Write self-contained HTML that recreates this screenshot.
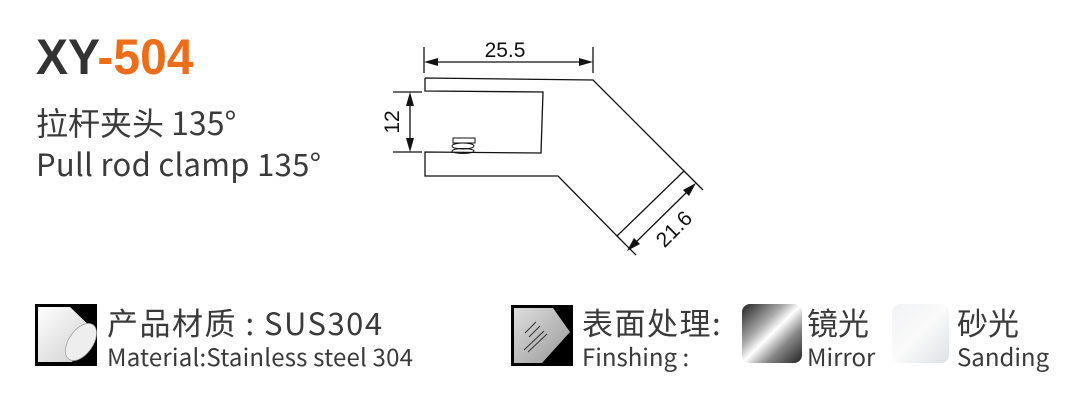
<!DOCTYPE html>
<html><head><meta charset="utf-8"><style>
body{margin:0;width:1088px;height:403px;background:#fff;overflow:hidden;position:relative;font-family:"Liberation Sans","Noto Sans CJK SC",sans-serif;color:#333}
.t{position:absolute;white-space:nowrap;font-family:'Noto Sans CJK SC',sans-serif;color:#3a3a3a}
</style></head><body>
<div class="t" style="left:36px;top:28px;font-size:50px;font-weight:bold;font-family:'Liberation Sans',sans-serif;transform:scaleX(0.96);transform-origin:0 0"><span style="color:#333">XY</span><span style="color:#ec6d1a">-504</span></div>
<div class="t" style="left:36px;top:102px;font-size:32px;line-height:40px">拉杆夹头 135°</div>
<div class="t" style="left:36px;top:143px;font-size:31px;line-height:40px;letter-spacing:0.3px">Pull rod clamp 135°</div>

<svg width="1088" height="403" style="position:absolute;left:0;top:0">
<g fill="none" stroke="#111" stroke-width="1.3">
<polyline points="425,78 593,80 684,171 617,236 558,176 425,176 425,152 541,153 543,92 425,91 425,78"/>
<line x1="424" y1="47" x2="424" y2="73"/><line x1="593" y1="47" x2="593" y2="73"/>
<line x1="430" y1="62" x2="588" y2="62"/>
<line x1="393" y1="92" x2="422" y2="92"/><line x1="393" y1="152" x2="422" y2="152"/>
<line x1="410" y1="97" x2="410" y2="147"/>
<line x1="684" y1="171" x2="703" y2="190"/><line x1="617" y1="236" x2="636" y2="255"/>
<line x1="690" y1="189" x2="633" y2="245"/>
<rect x="453" y="138" width="22" height="5" stroke-width="1"/>
<ellipse cx="463" cy="146" rx="11" ry="3" stroke-width="1"/>
<ellipse cx="463" cy="151" rx="11" ry="2.5" stroke-width="1"/>
</g>
<g fill="#111">
<polygon points="424,62 438,58 438,66"/><polygon points="593,62 579,58 579,66"/>
<polygon points="410,92 406,106 414,106"/><polygon points="410,152 406,138 414,138"/>
<polygon points="696,183 683,190 689,196"/><polygon points="627,251 634,238 640,244"/>
</g>
<text x="505" y="57" font-size="21" text-anchor="middle" font-family="Liberation Sans" fill="#111">25.5</text>
<text transform="translate(399,122) rotate(-90)" font-size="21" text-anchor="middle" font-family="Liberation Sans" fill="#111">12</text>
<text transform="translate(679,234) rotate(-45)" font-size="21" text-anchor="middle" font-family="Liberation Sans" fill="#111">21.6</text>

<defs>
<linearGradient id="g1" x1="0" y1="0" x2="1" y2="1"><stop offset="0" stop-color="#fff"/><stop offset="1" stop-color="#ccc"/></linearGradient>
<linearGradient id="g2" x1="0" y1="0" x2="1" y2="1"><stop offset="0" stop-color="#ddd"/><stop offset="1" stop-color="#999"/></linearGradient>
<linearGradient id="g3" x1="0" y1="0" x2="1" y2="1"><stop offset="0" stop-color="#222"/><stop offset=".35" stop-color="#aaa"/><stop offset=".5" stop-color="#fff"/><stop offset=".7" stop-color="#888"/><stop offset="1" stop-color="#222"/></linearGradient>
<linearGradient id="g4" x1="0" y1="0" x2="1" y2="1"><stop offset="0" stop-color="#f2f3f5"/><stop offset=".5" stop-color="#fafafa"/><stop offset="1" stop-color="#dde0e4"/></linearGradient>
</defs>
<rect x="35" y="304" width="62" height="62" fill="#000"/>
<path d="M38,307 L70,307 L94,330 L72,362 L38,362 Z" fill="url(#g1)"/>
<ellipse cx="81" cy="342" rx="12" ry="21" transform="rotate(35 81 342)" fill="#eee" stroke="#999" stroke-width=".7"/>
<rect x="511" y="305" width="62" height="61" fill="#000"/>
<path d="M514,308 L553,308 L570,332 L542,363 L514,363 Z" fill="url(#g2)"/>
<g stroke="#333" stroke-width="1"><line x1="525" y1="333" x2="536" y2="322"/><line x1="529" y1="337" x2="540" y2="326"/><line x1="524" y1="350" x2="544" y2="331"/><line x1="528" y1="352" x2="547" y2="334"/></g>
<rect x="742" y="304" width="60" height="59" rx="8" fill="url(#g3)"/>
<rect x="892" y="304" width="57" height="59" rx="8" fill="url(#g4)"/>
</svg>

<div class="t" style="left:107px;top:302px;font-size:31px;line-height:40px;letter-spacing:1.5px">产品材质 : SUS304</div>
<div class="t" style="left:107px;top:340px;font-size:24px;line-height:32px;letter-spacing:0.2px">Material:Stainless steel 304</div>
<div class="t" style="left:582px;top:302px;font-size:31px;line-height:40px;letter-spacing:1.5px">表面处理:</div>
<div class="t" style="left:582px;top:340px;font-size:24px;line-height:32px">Finshing :</div>
<div class="t" style="left:807px;top:302px;font-size:31px;line-height:40px">镜光</div>
<div class="t" style="left:807px;top:340px;font-size:24px;line-height:32px">Mirror</div>
<div class="t" style="left:957px;top:302px;font-size:31px;line-height:40px">砂光</div>
<div class="t" style="left:957px;top:340px;font-size:24px;line-height:32px">Sanding</div>
</body></html>
